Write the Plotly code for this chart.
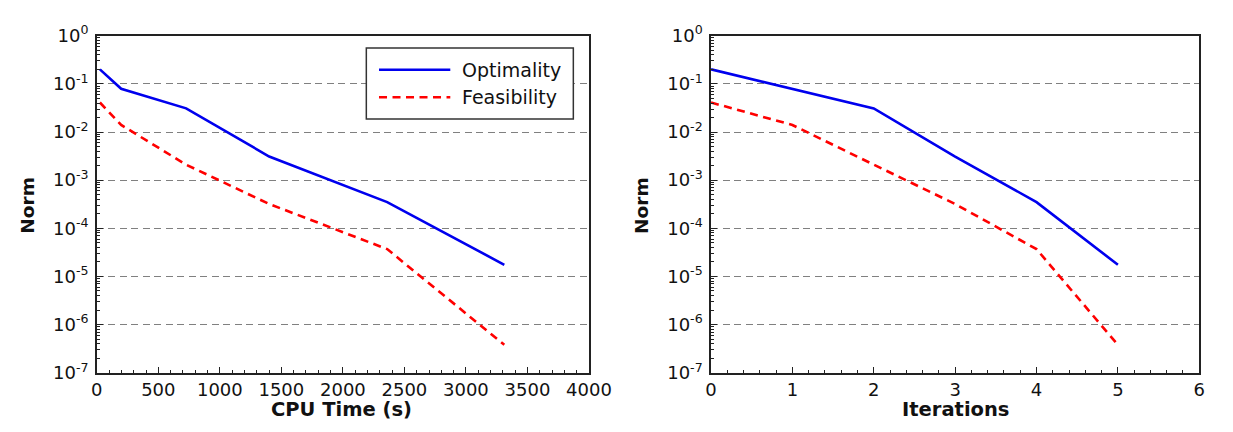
import plotly.graph_objects as go

# ---- data ----
cpu_time = [25, 198, 726, 1401, 2360, 3312]
iterations = [0, 1, 2, 3, 4, 5]
optimality = [0.20, 0.079, 0.031, 0.0031, 3.5e-4, 1.75e-5]
feasibility = [0.041, 0.014, 0.0021, 3.2e-4, 3.7e-5, 3.8e-7]

ytick_vals = [1e0, 1e-1, 1e-2, 1e-3, 1e-4, 1e-5, 1e-6, 1e-7]
ytick_text = ["10<sup>0</sup>", "10<sup>-1</sup>", "10<sup>-2</sup>", "10<sup>-3</sup>",
              "10<sup>-4</sup>", "10<sup>-5</sup>", "10<sup>-6</sup>", "10<sup>-7</sup>"]
x1_ticks = [0, 500, 1000, 1500, 2000, 2500, 3000, 3500, 4000]
x2_ticks = [0, 1, 2, 3, 4, 5, 6]

W, H = 1233, 432
FONT = "DejaVu Sans"
BLUE = "#0000ee"
RED = "#ff0000"
DASH = "8px,5.5px"

minor_y = [m * 10.0 ** e for e in range(-7, 0) for m in range(2, 10)]

fig = go.Figure()
fig.add_trace(go.Scatter(x=cpu_time, y=optimality, mode="lines", name="Optimality",
                         line=dict(color=BLUE, width=2.6), xaxis="x", yaxis="y"))
fig.add_trace(go.Scatter(x=cpu_time, y=feasibility, mode="lines", name="Feasibility",
                         line=dict(color=RED, width=2.6, dash=DASH), xaxis="x", yaxis="y"))
fig.add_trace(go.Scatter(x=iterations, y=optimality, mode="lines", name="Optimality",
                         line=dict(color=BLUE, width=2.6), xaxis="x2", yaxis="y2", showlegend=False))
fig.add_trace(go.Scatter(x=iterations, y=feasibility, mode="lines", name="Feasibility",
                         line=dict(color=RED, width=2.6, dash=DASH), xaxis="x2", yaxis="y2", showlegend=False))

def px_x(p):
    return p / W

def px_y(p):
    return 1 - p / H

ydom = [px_y(380), px_y(24)]
x1dom = [px_x(93), px_x(597)]
x2dom = [px_x(722), px_x(1222)]

common_axis = dict(showline=True, linecolor="#222222", linewidth=1.5, mirror=True,
                   ticks="inside", ticklen=6, tickwidth=1, tickcolor="#222222",
                   tickfont=dict(family=FONT, size=18, color="#111111"),
                   zeroline=False)

yaxis_common = dict(common_axis, type="log", range=[-7, 0], tickmode="array",
                    tickvals=ytick_vals, ticktext=ytick_text, ticklabelstandoff=3,
                    showgrid=True, gridcolor="#808080", gridwidth=1, griddash="7px,4.5px",
                    minor=dict(tickmode="array", tickvals=minor_y, ticks="inside",
                               ticklen=3, tickcolor="#222222", showgrid=False))

fig.update_layout(
    width=W, height=H,
    margin=dict(l=0, r=0, t=0, b=0),
    paper_bgcolor="white", plot_bgcolor="white",
    showlegend=False,
    xaxis=dict(common_axis, domain=x1dom, anchor="y", range=[0, 4000], tickmode="array",
               tickvals=x1_ticks, showgrid=False,
               minor=dict(dtick=100, tick0=0, ticks="inside", ticklen=3, tickcolor="#222222",
                          showgrid=False)),
    yaxis=dict(yaxis_common, domain=ydom, anchor="x"),
    xaxis2=dict(common_axis, domain=x2dom, anchor="y2", range=[0, 6], tickmode="array",
                tickvals=x2_ticks, showgrid=False,
                minor=dict(dtick=0.2, tick0=0, ticks="inside", ticklen=3, tickcolor="#222222",
                           showgrid=False)),
    yaxis2=dict(yaxis_common, domain=ydom, anchor="x2"),
)

title_font = dict(family=FONT, size=19.5, color="#111111")
norm_font = dict(family=FONT, size=18.5, color="#111111")
legend_font = dict(family=FONT, size=19, color="#111111")

def label(text, x, y, angle=0, xanchor="center", font=title_font):
    fig.add_annotation(text=text, x=px_x(x), y=px_y(y), xref="paper", yref="paper",
                       xanchor=xanchor, yanchor="middle", textangle=angle,
                       showarrow=False, font=font)

# axis titles
label("<b>Norm</b>", 22, 203, angle=-90, font=norm_font)
label("<b>Norm</b>", 650, 203, angle=-90, font=norm_font)
label("<b>CPU Time (s)</b>", 344, 419)
label("<b>Iterations</b>", 972, 419)

# custom legend box (left panel)
fig.add_shape(type="rect", xref="paper", yref="paper",
              x0=px_x(369), x1=px_x(581), y0=px_y(112), y1=px_y(37),
              line=dict(color="#333333", width=1.5), fillcolor="white", layer="above")
fig.add_shape(type="line", xref="paper", yref="paper",
              x0=px_x(382), x1=px_x(455), y0=px_y(60), y1=px_y(60),
              line=dict(color=BLUE, width=2.6), layer="above")
fig.add_shape(type="line", xref="paper", yref="paper",
              x0=px_x(382), x1=px_x(455), y0=px_y(89), y1=px_y(89),
              line=dict(color=RED, width=2.6, dash=DASH), layer="above")
label("Optimality", 465, 60, xanchor="left", font=legend_font)
label("Feasibility", 465, 89, xanchor="left", font=legend_font)

fig.write_html("out.html")
